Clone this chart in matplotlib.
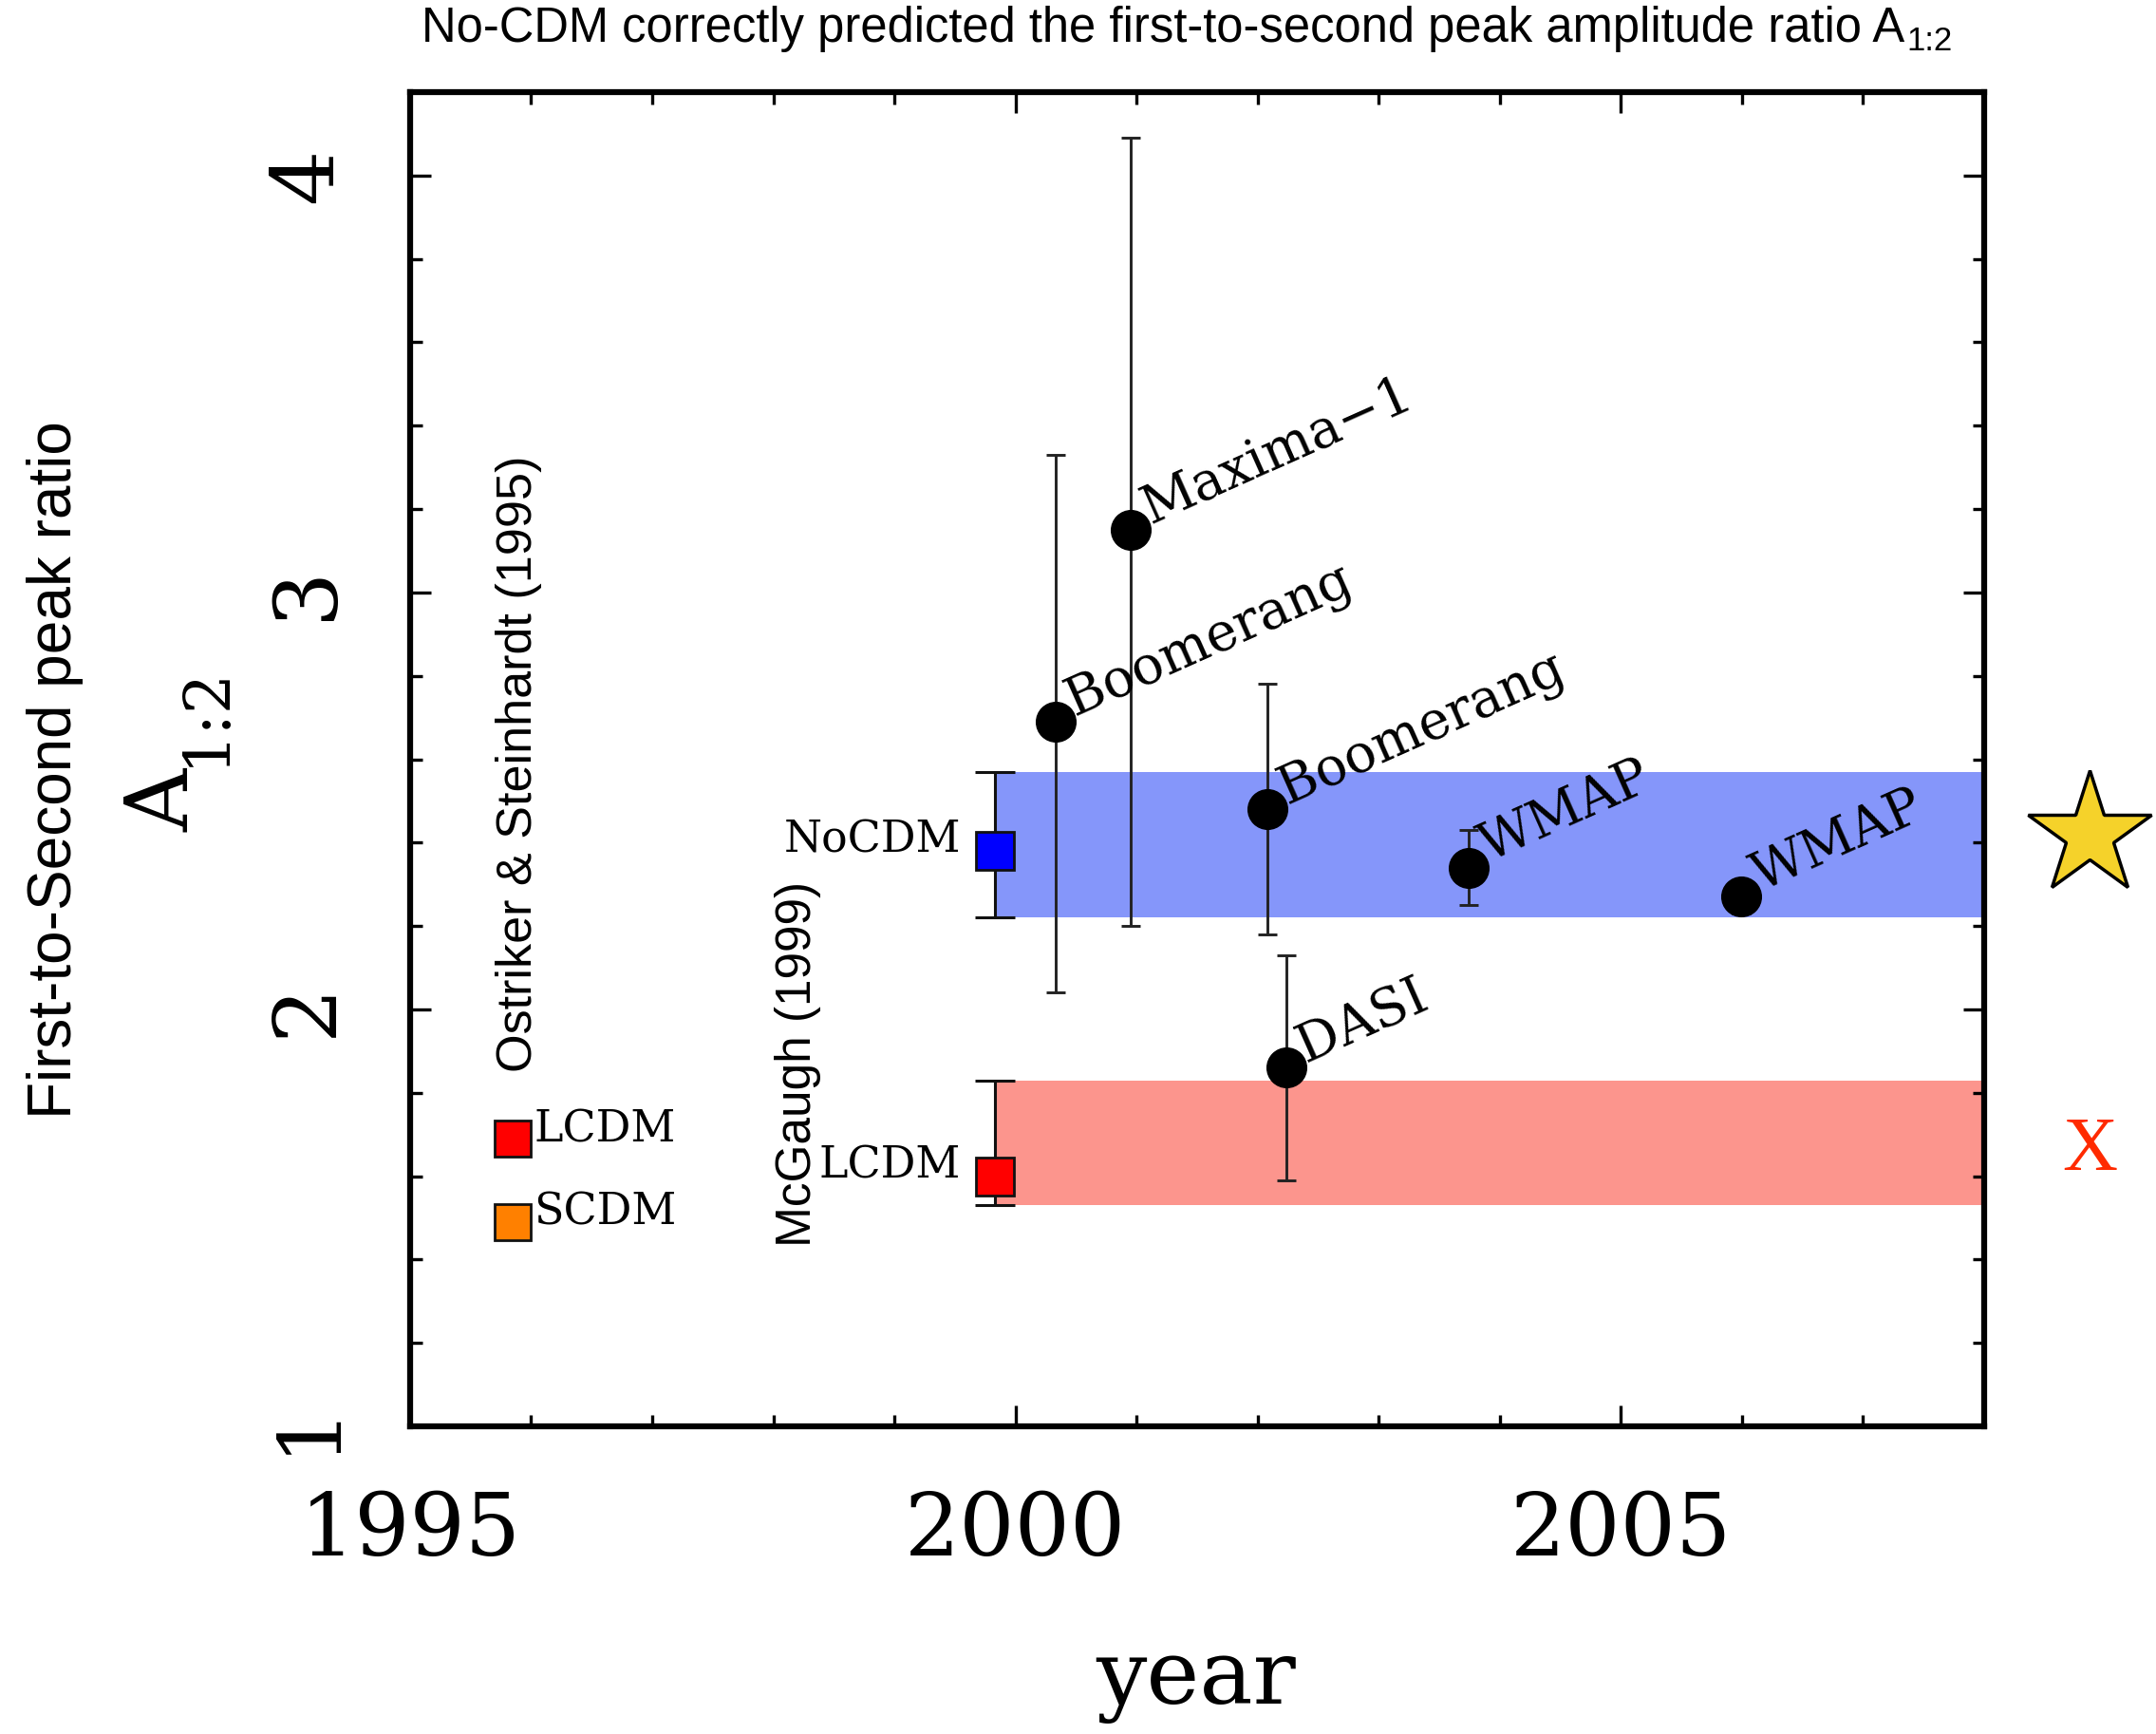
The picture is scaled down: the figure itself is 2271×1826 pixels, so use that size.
import matplotlib
matplotlib.use("Agg")
import matplotlib.pyplot as plt
from matplotlib.ticker import MultipleLocator, FixedLocator
from matplotlib.transforms import offset_copy

# CMB measurements of the first-to-second peak amplitude ratio
experiments = ["Boomerang", "Maxima\u22121", "Boomerang", "DASI", "WMAP", "WMAP"]
exp_year = [2000.33, 2000.95, 2002.08, 2002.24, 2003.74, 2005.99]
exp_ratio = [2.69, 3.15, 2.48, 1.86, 2.34, 2.27]
exp_low = [2.04, 2.20, 2.18, 1.59, 2.25, 2.23]
exp_high = [3.33, 4.09, 2.78, 2.13, 2.43, 2.31]

# McGaugh (1999) predictions
mcgaugh_models = ["NoCDM", "LCDM"]
mcgaugh_year = [1999.83, 1999.83]
mcgaugh_ratio = [2.38, 1.60]
mcgaugh_low = [2.22, 1.53]
mcgaugh_high = [2.57, 1.83]
mcgaugh_colors = ["#0000ff", "#ff0000"]
band_colors = ["#8596fa", "#fc958d"]

# Ostriker & Steinhardt (1995) predictions
os_models = ["LCDM", "SCDM"]
os_year = [1995.85, 1995.85]
os_ratio = [1.69, 1.49]
os_colors = ["#ff0000", "#ff8000"]

x_ticks = [1995, 2000, 2005]
y_ticks = [1, 2, 3, 4]
x_range = (1995, 2008)
y_range = (1, 4.2)

SERIF = "DejaVu Serif"
SANS = "Liberation Sans"

fig = plt.figure(figsize=(22.71, 18.26), dpi=100)
ax = fig.add_axes([0.1902, 0.1774, 0.7301, 0.7695])
ax.set_xlim(*x_range)
ax.set_ylim(*y_range)

# model bands spanning the rest of the period
for yr, lo, hi, col in zip(mcgaugh_year, mcgaugh_low, mcgaugh_high, band_colors):
    ax.fill_between([yr, x_range[1]], [lo, lo], [hi, hi], color=col, lw=0, zorder=1)

# McGaugh predictions with their ranges
for name, yr, val, lo, hi, col in zip(mcgaugh_models, mcgaugh_year, mcgaugh_ratio,
                                      mcgaugh_low, mcgaugh_high, mcgaugh_colors):
    ax.errorbar([yr], [val], yerr=[[val - lo], [hi - val]], fmt="none",
                ecolor="#111111", elinewidth=2.2, capsize=15, capthick=2.2, zorder=3)
    ax.plot([yr], [val], marker="s", ms=29, mfc=col, mec="#111111", mew=2, zorder=4)
    ax.annotate(name, (yr, val), xytext=(-26, 8), textcoords="offset points",
                ha="right", va="center", fontsize=33, family=SERIF, zorder=5)

# Ostriker & Steinhardt predictions
for name, yr, val, col in zip(os_models, os_year, os_ratio, os_colors):
    ax.plot([yr], [val], marker="s", ms=27, mfc=col, mec="#111111", mew=2, zorder=4)
    ax.annotate(name, (yr, val), xytext=(16, 7), textcoords="offset points",
                ha="left", va="center", fontsize=33, family=SERIF, zorder=5)

# measurements
for name, yr, val, lo, hi in zip(experiments, exp_year, exp_ratio, exp_low, exp_high):
    ax.errorbar([yr], [val], yerr=[[val - lo], [hi - val]], fmt="none",
                ecolor="#222222", elinewidth=2.1, capsize=7, capthick=2.1, zorder=3)
    ax.plot([yr], [val], marker="o", ms=30, color="black", zorder=4)
    ax.annotate(name, (yr, val), xytext=(15, 4), textcoords="offset points",
                ha="left", va="baseline", rotation=24, rotation_mode="anchor",
                fontsize=40, family=SERIF, zorder=5)

# source annotations
ax.text(1995.9, 1.85, "Ostriker & Steinhardt (1995)", rotation=90, ha="center",
        va="bottom", fontsize=37.5, family=SANS)
ax.text(1998.2, 1.43, "McGaugh (1999)", rotation=90, ha="center",
        va="bottom", fontsize=37, family=SANS)

# verdict symbols beside the bands
ax.plot([2008.87], [2.42], marker="*", ms=98, mfc="#f5d22a", mec="black", mew=2.5,
        clip_on=False, zorder=6)
ax.text(2008.87, 1.66, "X", color="#ff2a00", ha="center", va="center",
        fontsize=58, family="Liberation Serif", clip_on=False)

# axes styling
ax.xaxis.set_major_locator(FixedLocator(x_ticks))
ax.xaxis.set_minor_locator(MultipleLocator(1))
ax.yaxis.set_major_locator(FixedLocator(y_ticks))
ax.yaxis.set_minor_locator(MultipleLocator(0.2))
ax.tick_params(which="both", direction="in", top=True, right=True, width=2.4,
               color="black")
ax.tick_params(which="major", length=16)
ax.tick_params(which="minor", length=9)
ax.tick_params(axis="x", which="major", pad=48)
ax.tick_params(axis="y", which="major", pad=46)
for lab in ax.get_xticklabels():
    lab.set_fontfamily(SERIF)
    lab.set_fontsize(66)
for lab in ax.get_yticklabels():
    lab.set_fontfamily(SERIF)
    lab.set_fontsize(66)
    lab.set_rotation(90)
    lab.set_va("center")
for sp in ax.spines.values():
    sp.set_linewidth(4.5)
    sp.set_zorder(7)

W, H = 2271, 1826
fig.text(1260 / W, 1 - 1770 / H, "year", ha="center", va="center",
         fontsize=68, family=SERIF)
# A_{1:2} axis symbol, drawn as main glyph plus subscript
fig.text(198 / W, 1 - 843 / H, "A", rotation=90, rotation_mode="anchor",
         ha="center", va="baseline", fontsize=66, family=SERIF)
fig.text(235 / W, 1 - 753 / H, "1:2", rotation=90, rotation_mode="anchor",
         ha="center", va="baseline", fontsize=48, family=SERIF)
fig.text(58 / W, 1 - 811 / H, "First-to-Second peak ratio", rotation=90,
         ha="center", va="center", fontsize=46, family=SANS)

# title with a subscript placed right after the main line
renderer = fig.canvas.get_renderer()
title_main = fig.text(0, 1 - 44 / H,
                      "No-CDM correctly predicted the first-to-second peak amplitude ratio A",
                      ha="left", va="baseline", fontsize=36.5, family=SANS)
title_sub = fig.text(0, 1 - 44 / H, "1:2", ha="left", va="baseline",
                     fontsize=25, family=SANS)
main_w = title_main.get_window_extent(renderer).width
sub_w = title_sub.get_window_extent(renderer).width
total_w = main_w + 2 + sub_w
x0 = 1250 - total_w / 2
title_main.set_x(x0 / W)
title_sub.set_x((x0 + main_w + 2) / W)
title_sub.set_transform(offset_copy(fig.transFigure, fig=fig, x=0, y=-9, units="dots"))

fig.savefig("out.png", dpi=100)
